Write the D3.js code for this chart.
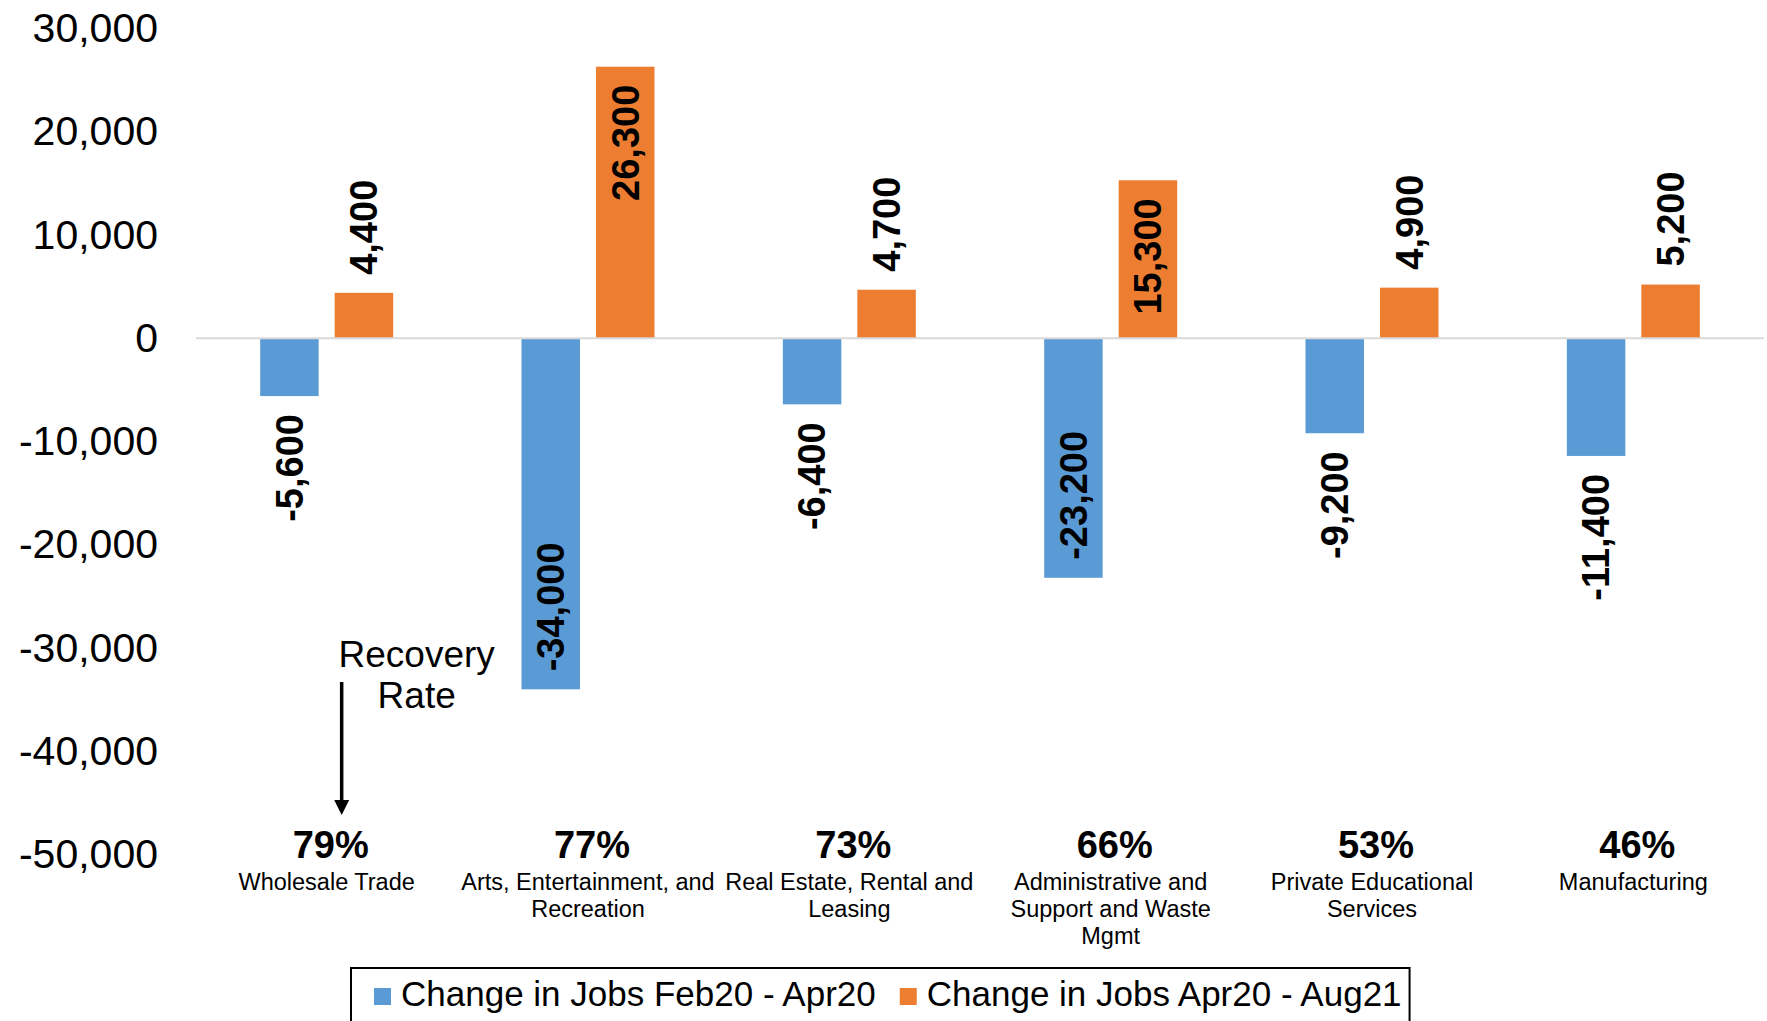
<!DOCTYPE html>
<html>
<head>
<meta charset="utf-8">
<script src="https://cdn.jsdelivr.net/npm/d3@7"></script>
<style>
  body { margin: 0; background: #fff; }
  text { font-family: "Liberation Sans", Arial, sans-serif; fill: #000; }
</style>
</head>
<body>
<div id="vis"></div>
<script>
// Datos
const CATEGORIAS = ["Wholesale Trade", "Arts, Entertainment, and Recreation", "Real Estate, Rental and Leasing",
  "Administrative and Support and Waste Mgmt", "Private Educational Services", "Manufacturing"];
const ETIQUETAS = [
  ["Wholesale Trade"],
  ["Arts, Entertainment, and", "Recreation"],
  ["Real Estate, Rental and", "Leasing"],
  ["Administrative and", "Support and Waste", "Mgmt"],
  ["Private Educational", "Services"],
  ["Manufacturing"]
];
const CAMBIO_FEB_ABR = [-5600, -34000, -6400, -23200, -9200, -11400];
const CAMBIO_ABR_AGO = [4400, 26300, 4700, 15300, 4900, 5200];
const RECUPERACION = ["79%", "77%", "73%", "66%", "53%", "46%"];
const SERIES = ["Change in Jobs Feb20 - Apr20", "Change in Jobs Apr20 - Aug21"];
const COLORES = ["#5B9BD5", "#ED7D31"];
const TICKS_Y = [-50000, -40000, -30000, -20000, -10000, 0, 10000, 20000, 30000];

const WIDTH = 1767;
const HEIGHT = 1021;

const SVG = d3.select("#vis")
  .append("svg")
  .attr("width", WIDTH)
  .attr("height", HEIGHT)

// formato con guion normal como signo menos (igual que Excel)
const formato = d3.formatLocale({ decimal: ".", thousands: ",", grouping: [3], currency: ["$", ""], minus: "-" }).format(",");

const datos = CATEGORIAS.map((c, i) => ({
  categoria: c,
  lineas: ETIQUETAS[i],
  recuperacion: RECUPERACION[i],
  valores: [CAMBIO_FEB_ABR[i], CAMBIO_ABR_AGO[i]]
}))

// Escalas
const x0 = d3.scaleBand()
  .domain(CATEGORIAS)
  .range([196, 1764])
  .padding(0)

const grupo = 133;
const x1 = d3.scaleBand()
  .domain(SERIES)
  .range([x0.bandwidth() / 2 - grupo / 2, x0.bandwidth() / 2 + grupo / 2])
  .paddingInner(0.215)

const y = d3.scaleLinear()
  .domain([-50000, 30000])
  .range([854.5, 28.5])

// Eje Y
SVG.append("g")
  .attr("transform", `translate(196, 0)`)
  .call(d3.axisLeft(y).tickValues(TICKS_Y).tickSize(0).tickPadding(38).tickFormat(formato))
  .call(g => g.select(".domain").remove())
  .selectAll("text")
  .style("font-size", "41px")
  .style("font-family", '"Liberation Sans", Arial, sans-serif')
  .attr("fill", "#000")

// Barras
const grupos = SVG.selectAll(".cat")
  .data(datos)
  .join("g")
  .attr("class", "cat")
  .attr("transform", d => `translate(${x0(d.categoria)}, 0)`)

grupos.selectAll("rect")
  .data(d => d.valores.map((v, i) => ({ serie: SERIES[i], valor: v, color: COLORES[i] })))
  .join("rect")
  .attr("x", d => x1(d.serie))
  .attr("width", x1.bandwidth())
  .attr("y", d => y(Math.max(0, d.valor)))
  .attr("height", d => Math.abs(y(d.valor) - y(0)))
  .attr("fill", d => d.color)

// Linea del cero
SVG.append("line")
  .attr("x1", 196)
  .attr("x2", 1764)
  .attr("y1", y(0))
  .attr("y2", y(0))
  .attr("stroke", "#d9d9d9")
  .attr("stroke-width", 2)

// Etiquetas de datos (verticales)
grupos.selectAll(".valor")
  .data(d => d.valores.map((v, i) => ({ serie: SERIES[i], valor: v })))
  .join("text")
  .attr("class", "valor")
  .each(function (d) {
    const fuera = Math.abs(d.valor) < 12000;
    const anchor = (d.valor >= 0) === fuera ? "start" : "end";
    const py = y(d.valor) + (anchor == "start" ? -18 : 18);
    const px = x1(d.serie) + x1.bandwidth() / 2;
    d3.select(this)
      .attr("text-anchor", anchor)
      .attr("transform", `translate(${px}, ${py}) rotate(-90)`)
  })
  .attr("dy", "0.35em")
  .style("font-size", "38px")
  .style("font-weight", "bold")
  .text(d => formato(d.valor))

// Tasa de recuperacion y nombres de categorias
grupos.append("text")
  .attr("x", x0.bandwidth() / 2 + 4)
  .attr("y", 858)
  .attr("text-anchor", "middle")
  .style("font-size", "38px")
  .style("font-weight", "bold")
  .text(d => d.recuperacion)

grupos.append("text")
  .attr("text-anchor", "middle")
  .style("font-size", "23.5px")
  .selectAll("tspan")
  .data(d => d.lineas)
  .join("tspan")
  .attr("x", x0.bandwidth() / 2)
  .attr("y", (d, i) => 890 + i * 27)
  .text(d => d)

// Anotacion "Recovery Rate"
const xFlecha = x0(CATEGORIAS[0]) + x0.bandwidth() / 2 + 15;
SVG.append("text")
  .attr("text-anchor", "middle")
  .style("font-size", "37px")
  .selectAll("tspan")
  .data(["Recovery", "Rate"])
  .join("tspan")
  .attr("x", xFlecha + 75)
  .attr("y", (d, i) => 667 + i * 41)
  .text(d => d)

SVG.append("line")
  .attr("x1", xFlecha)
  .attr("x2", xFlecha)
  .attr("y1", 682)
  .attr("y2", 802)
  .attr("stroke", "#000")
  .attr("stroke-width", 3.5)

SVG.append("path")
  .attr("d", `M${xFlecha - 7.5},800 L${xFlecha + 7.5},800 L${xFlecha},815 Z`)
  .attr("fill", "#000")

// Leyenda
const leyenda = SVG.append("g")
const marco = leyenda.append("rect")
  .attr("fill", "none")
  .attr("stroke", "#000")
  .attr("stroke-width", 2)

let cursor = 374;
SERIES.forEach((s, i) => {
  leyenda.append("rect")
    .attr("x", cursor)
    .attr("y", 988)
    .attr("width", 17)
    .attr("height", 17)
    .attr("fill", COLORES[i])
  const t = leyenda.append("text")
    .attr("x", cursor + 27)
    .attr("y", 1006)
    .style("font-size", "35px")
    .text(s)
  cursor = cursor + 27 + t.node().getComputedTextLength() + 24;
})

marco
  .attr("x", 351)
  .attr("y", 968)
  .attr("width", cursor - 24 + 8 - 351)
  .attr("height", 90)
</script>
</body>
</html>
